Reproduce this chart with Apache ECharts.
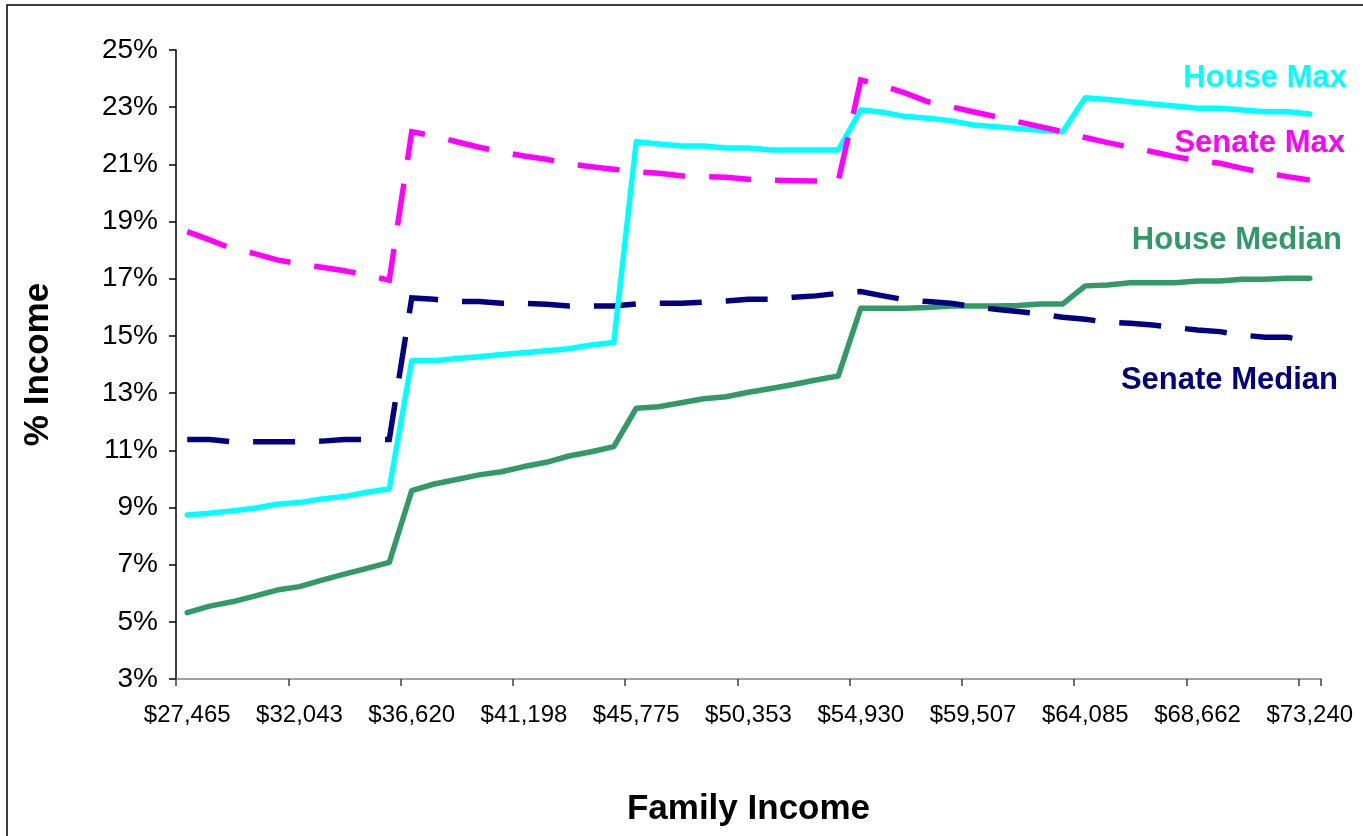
<!DOCTYPE html>
<html>
<head>
<meta charset="utf-8">
<script src="https://cdn.jsdelivr.net/npm/echarts@6/dist/echarts.min.js"></script>
<style>
html,body{margin:0;padding:0;background:#fff;}
#chart{width:1363px;height:836px;}
</style>
</head>
<body>
<div id="chart"></div>
<script>
// Family income categories (51 bins)
const incomes = [27465, 28381, 29296, 30212, 31127, 32043, 32958, 33874, 34789, 35705,
  36620, 37536, 38451, 39367, 40282, 41198, 42113, 43029, 43944, 44860,
  45775, 46691, 47606, 48522, 49437, 50353, 51268, 52184, 53099, 54015,
  54930, 55846, 56761, 57677, 58592, 59507, 60423, 61339, 62254, 63170,
  64085, 65001, 65916, 66832, 67747, 68662, 69578, 70494, 71409, 72325, 73240];

const houseMax = [8.74, 8.80, 8.88, 8.97, 9.11, 9.17, 9.30, 9.38, 9.53, 9.65,
  14.13, 14.13, 14.21, 14.27, 14.35, 14.41, 14.48, 14.55, 14.68, 14.77,
  21.79, 21.71, 21.64, 21.64, 21.57, 21.57, 21.50, 21.50, 21.50, 21.50,
  22.90, 22.82, 22.67, 22.61, 22.53, 22.38, 22.32, 22.25, 22.19, 22.14,
  23.33, 23.27, 23.19, 23.11, 23.04, 22.96, 22.96, 22.90, 22.84, 22.84, 22.76];

const senateMax = [18.65, 18.36, 18.05, 17.88, 17.66, 17.52, 17.40, 17.28, 17.13, 16.95,
  22.14, 21.99, 21.79, 21.60, 21.44, 21.29, 21.18, 21.01, 20.92, 20.83,
  20.74, 20.69, 20.60, 20.57, 20.55, 20.48, 20.45, 20.43, 20.42, 20.42,
  23.95, 23.74, 23.49, 23.19, 23.02, 22.84, 22.67, 22.49, 22.32, 22.14,
  21.94, 21.76, 21.60, 21.44, 21.27, 21.13, 21.04, 20.86, 20.71, 20.57, 20.45];

const houseMedian = [5.32, 5.55, 5.70, 5.90, 6.11, 6.23, 6.46, 6.67, 6.87, 7.08,
  9.59, 9.82, 9.98, 10.14, 10.25, 10.43, 10.58, 10.80, 10.95, 11.13,
  12.47, 12.52, 12.66, 12.80, 12.87, 13.03, 13.16, 13.30, 13.46, 13.60,
  15.97, 15.97, 15.97, 15.99, 16.05, 16.05, 16.05, 16.06, 16.12, 16.12,
  16.75, 16.78, 16.86, 16.86, 16.86, 16.92, 16.92, 16.98, 16.98, 17.02, 17.02];

const senateMedian = [11.38, 11.38, 11.30, 11.30, 11.30, 11.30, 11.32, 11.38, 11.38, 11.38,
  16.33, 16.28, 16.20, 16.20, 16.14, 16.14, 16.11, 16.05, 16.05, 16.05,
  16.12, 16.14, 16.14, 16.18, 16.22, 16.28, 16.28, 16.35, 16.40, 16.49,
  16.55, 16.40, 16.26, 16.20, 16.14, 16.03, 15.93, 15.85, 15.77, 15.65,
  15.58, 15.48, 15.44, 15.38, 15.29, 15.21, 15.15, 15.03, 14.95, 14.95, 14.83];

const yTicks = [3, 5, 7, 9, 11, 13, 15, 17, 19, 21, 23, 25];

const seriesNames = ['House Max', 'Senate Max', 'House Median', 'Senate Median'];

const FONT = 'Liberation Sans, Arial, Helvetica, sans-serif';
const categories = incomes.map(v => '$' + v.toLocaleString('en-US'));

const chart = echarts.init(document.getElementById('chart'), null, {renderer: 'canvas'});

const lineSeries = (name, data, color, dashed) => ({
  name: name,
  type: 'line',
  data: data,
  symbol: 'none',
  smooth: false,
  animation: false,
  lineStyle: dashed
    ? {color: color, width: 5.5, type: [42, 24], cap: 'butt', join: 'miter'}
    : {color: color, width: 5.5, type: 'solid', cap: 'round', join: 'round'},
  itemStyle: {color: color}
});

chart.setOption({
  backgroundColor: '#ffffff',
  animation: false,
  grid: {left: 176, right: 42, top: 50, bottom: 157, containLabel: false},
  xAxis: {
    type: 'category',
    data: categories,
    boundaryGap: true,
    name: 'Family Income',
    nameLocation: 'middle',
    nameGap: 113,
    nameTextStyle: {fontFamily: FONT, fontWeight: 'bold', fontSize: 35, color: '#000'},
    axisLine: {show: true, lineStyle: {color: '#808080', width: 1.5}},
    axisTick: {show: true, interval: (i) => i % 5 === 0 && i < incomes.length, length: 7, inside: false, lineStyle: {color: '#404040', width: 1.5}},
    axisLabel: {interval: 4, margin: 24, fontFamily: FONT, fontSize: 24, color: '#000'},
    splitLine: {show: false}
  },
  yAxis: {
    type: 'value',
    min: 3,
    max: 25,
    name: '% Income',
    nameLocation: 'middle',
    nameGap: 120,
    nameRotate: 90,
    nameTextStyle: {fontFamily: FONT, fontWeight: 'bold', fontSize: 35, color: '#000'},
    axisLine: {show: true, lineStyle: {color: '#000', width: 1.5}},
    axisTick: {show: true, length: 7, inside: false, customValues: yTicks, lineStyle: {color: '#000', width: 1.5}},
    axisLabel: {
      customValues: yTicks,
      margin: 18,
      fontFamily: FONT, fontSize: 28, color: '#000',
      formatter: v => v + '%'
    },
    splitLine: {show: false}
  },
  series: [
    lineSeries(seriesNames[2], houseMedian, '#339966', false),
    lineSeries(seriesNames[3], senateMedian, '#000080', true),
    lineSeries(seriesNames[0], houseMax, '#00FFFF', false),
    lineSeries(seriesNames[1], senateMax, '#FF00FF', true)
  ],
  graphic: [
    {type: 'rect', silent: true, z: -1, shape: {x: 7, y: 5, width: 1420, height: 900},
     style: {fill: null, stroke: '#000', lineWidth: 1.5}},
    {type: 'text', right: 16, top: 63, style: {text: seriesNames[0], font: 'bold 31px ' + FONT, fill: '#00FFFF'}},
    {type: 'text', right: 18, top: 128, style: {text: seriesNames[1], font: 'bold 31px ' + FONT, fill: '#FF00FF'}},
    {type: 'text', right: 21, top: 225, style: {text: seriesNames[2], font: 'bold 31px ' + FONT, fill: '#339966'}},
    {type: 'text', right: 25, top: 365, style: {text: seriesNames[3], font: 'bold 31px ' + FONT, fill: '#000080'}}
  ]
});
</script>
</body>
</html>
